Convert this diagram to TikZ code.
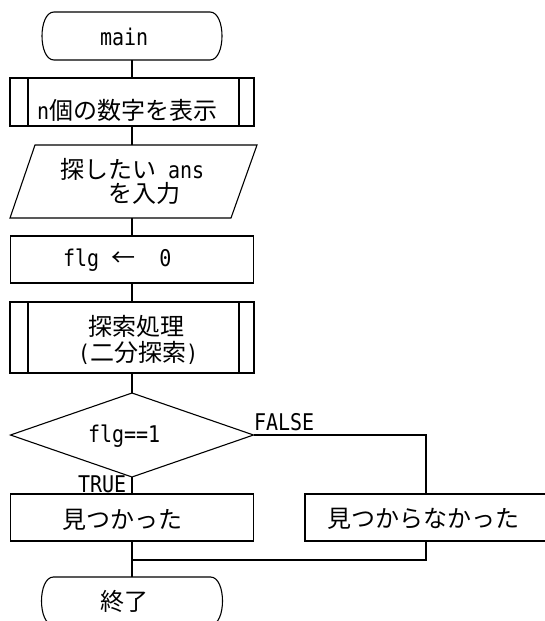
\documentclass[tikz,border=0pt]{standalone}
\usepackage{fontspec}
\setmainfont{DejaVu Sans Mono}
\newfontfamily\monofam[FakeStretch=0.87]{DejaVu Sans Mono}
\newfontfamily\jpfont{Noto Sans CJK JP}
\newcommand\latsz{\monofam\fontsize{23}{27}\selectfont}
\newcommand\jpsz{\jpfont\fontsize{24}{28}\selectfont}
\usetikzlibrary{shapes.geometric}
\begin{document}
\begin{tikzpicture}[x=1pt,y=-1pt,line width=1.1pt,
  shapebox/.style={draw, rectangle, inner sep=0pt, outer sep=0pt},
  ghost/.style={draw=none, rectangle, inner sep=0pt, outer sep=0pt},
  decision/.style={draw, diamond, inner sep=0pt, outer sep=0pt},
  txt/.style={inner sep=0pt, outer sep=0pt, anchor=base west},
  conn/.style={draw, line width=1.1pt}]
\fill[white] (0,0) rectangle (544,621);
\useasboundingbox (0,0) rectangle (544,621);

% start terminal
\node[ghost, minimum width=180pt, minimum height=48pt] (start) at (132,36) {};
\draw ([xshift=12pt]start.north west) -- ([xshift=-12pt]start.north east)
  .. controls ([xshift=4pt]start.north east) and ([xshift=4pt]start.south east) .. ([xshift=-12pt]start.south east)
  -- ([xshift=12pt]start.south west)
  .. controls ([xshift=-4pt]start.south west) and ([xshift=-4pt]start.north west) .. cycle;

% predefined process 1
\node[shapebox, minimum width=244pt, minimum height=48pt] (show) at (132,102) {};
\draw ([xshift=18pt]show.north west) -- ([xshift=18pt]show.south west);
\draw ([xshift=-15pt]show.north east) -- ([xshift=-15pt]show.south east);

% input parallelogram
\node[ghost, minimum width=200pt, minimum height=73pt] (inp) at (132,181.5) {};
\draw (35,145) -- (257,145) -- (231,218) -- (10,218) -- cycle;

% flg <- 0
\node[shapebox, minimum width=243pt, minimum height=47pt] (init) at (132,259.5) {};

% predefined process 2
\node[shapebox, minimum width=244pt, minimum height=71pt] (search) at (132,337.5) {};
\draw ([xshift=18pt]search.north west) -- ([xshift=18pt]search.south west);
\draw ([xshift=-15pt]search.north east) -- ([xshift=-15pt]search.south east);

% decision
\node[decision, minimum width=243pt, minimum height=84pt] (dec) at (132,435) {};

% results
\node[shapebox, minimum width=243pt, minimum height=47pt] (found) at (132,517.5) {};
\node[shapebox, minimum width=242pt, minimum height=47pt] (notfound) at (426,517.5) {};

% end terminal
\node[ghost, minimum width=181pt, minimum height=48pt] (stop) at (132,601) {};
\draw ([xshift=12pt]stop.north west) -- ([xshift=-12pt]stop.north east)
  .. controls ([xshift=4pt]stop.north east) and ([xshift=4pt]stop.south east) .. ([xshift=-12pt]stop.south east)
  -- ([xshift=12pt]stop.south west)
  .. controls ([xshift=-4pt]stop.south west) and ([xshift=-4pt]stop.north west) .. cycle;

\coordinate (merge) at (132,560);

% connectors
\draw[conn] (start.south) -- (show.north);
\draw[conn] (show.south) -- (inp.north);
\draw[conn] (inp.south) -- (init.north);
\draw[conn] (init.south) -- (search.north);
\draw[conn] (search.south) -- (dec.north);
\draw[conn] (dec.south) -- (found.north);
\draw[conn] (dec.east) -| (notfound.north);
\draw[conn] (found.south) -- (stop.north);
\draw[conn] (notfound.south) |- (merge);

% texts
\node[txt] (tmain) at (100,45) {\latsz main};
\node[txt] (tshow) at (37,119) {{\latsz n}{\jpsz 個の数字を表示}};
\node[txt] (tin1) at (60,178) {{\jpsz 探したい}{\latsz\ ans}};
\node[txt] (tin2) at (108,202) {\jpsz を入力};
\node[txt] (tflg) at (63,266) {{\latsz flg\ }{\jpsz ←}{\latsz\ \ 0}};
\node[txt] (ts1) at (88,335) {\jpsz 探索処理};
\node[txt] (ts2) at (78,361) {{\latsz (}{\jpsz 二分探索}{\latsz )}};
\node[txt] (tcond) at (88,442) {\latsz flg==1};
\node[txt] (tfalse) at (254,430) {\latsz FALSE};
\node[txt] (ttrue) at (78,492) {\latsz TRUE};
\node[txt] (tf) at (62,528) {\jpsz 見つかった};
\node[txt] (tnf) at (327,527) {\jpsz 見つからなかった};
\node[txt] (tend) at (100,610) {\jpsz 終了};
\end{tikzpicture}
\end{document}
